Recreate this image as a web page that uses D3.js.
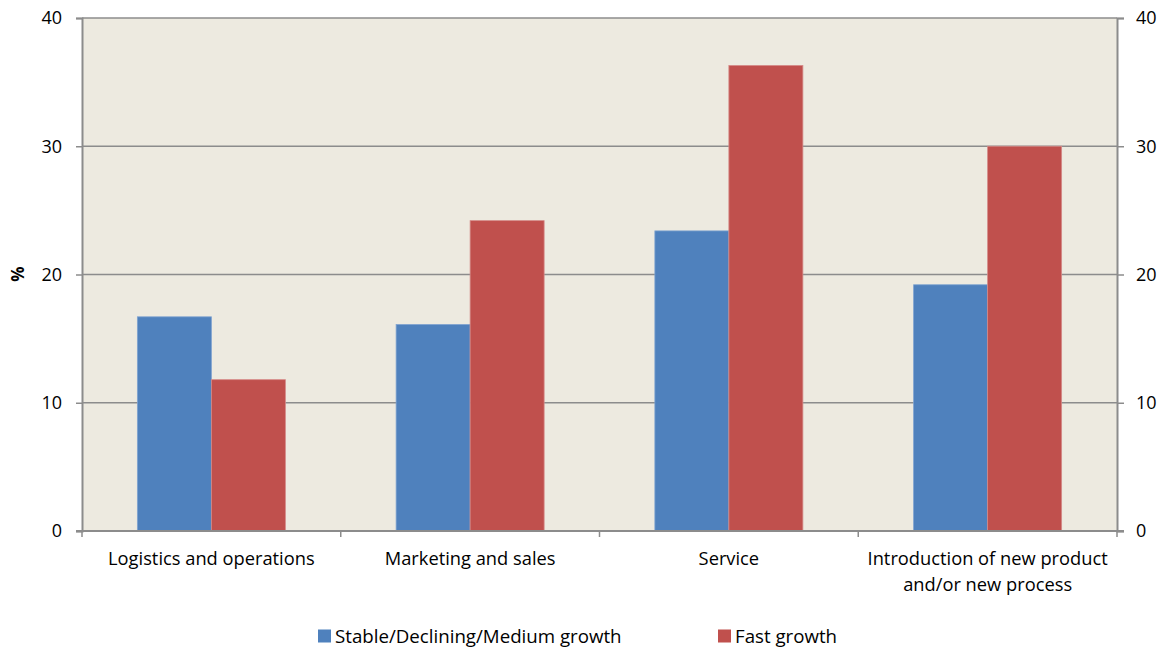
<!DOCTYPE html>
<html>
<head>
<meta charset="utf-8">
<script src="https://cdn.jsdelivr.net/npm/d3@7"></script>
<style>
  html, body { margin: 0; padding: 0; background: #ffffff; }
  svg text { font-family: "Open Sans", "Noto Sans", sans-serif; fill: #000; }
</style>
</head>
<body>
<svg id="chart" width="1171" height="652"></svg>
<script>
// Share of firms (%) by area, split by growth class
const categories = [
  ["Logistics and operations"],
  ["Marketing and sales"],
  ["Service"],
  ["Introduction of new product", "and/or new process"]
];
const seriesNames = ["Stable/Declining/Medium growth", "Fast growth"];
const stableValues = [16.7, 16.1, 23.4, 19.2];
const fastValues = [11.8, 24.2, 36.3, 30.0];
const yTicks = [0, 10, 20, 30, 40];
const colors = ["#4F81BD", "#C0504D"];

const svg = d3.select("#chart");
const W = 1171, H = 652;
const margin = { left: 82, right: W - 1117, top: 18, bottom: H - 531 };
const x0 = margin.left, x1 = W - margin.right;
const yTop = margin.top, yBot = H - margin.bottom;

const catIdx = categories.map((_, i) => i);
const x = d3.scaleBand().domain(catIdx).range([x0, x1]).paddingInner(0).paddingOuter(0);
// Bars occupy ~57% of each category slot
const groupW = x.bandwidth() * 0.572;
const barW = groupW / 2;
const y = d3.scaleLinear().domain([0, 40]).range([yBot, yTop]);

// Plot background
svg.append("rect")
  .attr("x", x0).attr("y", yTop)
  .attr("width", x1 - x0).attr("height", yBot - yTop)
  .attr("fill", "#EDEAE0");

// Horizontal gridlines
svg.append("g").selectAll("line")
  .data(yTicks.filter(t => t > 0))
  .join("line")
  .attr("x1", x0).attr("x2", x1)
  .attr("y1", d => y(d)).attr("y2", d => y(d))
  .attr("stroke", "#8C8C8C").attr("stroke-width", 1.3);

// Bars
const seriesData = [stableValues, fastValues];
seriesData.forEach((vals, s) => {
  svg.append("g").selectAll("rect")
    .data(vals)
    .join("rect")
    .attr("x", (d, i) => x(i) + (x.bandwidth() - groupW) / 2 + s * barW)
    .attr("y", d => y(d))
    .attr("width", barW)
    .attr("height", d => y(0) - y(d))
    .attr("fill", colors[s])
    .attr("stroke", s === 0 ? "#7FA3D0" : "#D58A88")
    .attr("stroke-width", 0.8);
});

// Left axis
const leftAxis = d3.axisLeft(y).tickValues(yTicks).tickSize(6).tickPadding(14).tickFormat(d3.format("d"));
const gL = svg.append("g").attr("transform", `translate(${x0},0)`).call(leftAxis);
// Right axis
const rightAxis = d3.axisRight(y).tickValues(yTicks).tickSize(7).tickPadding(12).tickFormat(d3.format("d"));
const gR = svg.append("g").attr("transform", `translate(${x1},0)`).call(rightAxis);
[gL, gR].forEach(g => {
  g.select(".domain").attr("stroke", "#8C8C8C").attr("stroke-width", 2);
  g.selectAll(".tick line").attr("stroke", "#8C8C8C").attr("stroke-width", 1.5);
  g.selectAll(".tick text").attr("font-size", 18).attr("font-family", "Open Sans").attr("fill", "#000");
});

// Bottom axis: baseline, boundary ticks and category labels
const gB = svg.append("g");
gB.append("line").attr("x1", x0 - 6).attr("x2", x1 + 7).attr("y1", yBot).attr("y2", yBot)
  .attr("stroke", "#8C8C8C").attr("stroke-width", 2);
const bounds = catIdx.map(i => x(i)).concat([x1]);
gB.selectAll("line.b").data(bounds).join("line").attr("class", "b")
  .attr("x1", d => d).attr("x2", d => d).attr("y1", yBot).attr("y2", yBot + 6)
  .attr("stroke", "#8C8C8C").attr("stroke-width", 1.5);
const labels = gB.selectAll("text.cat").data(categories).join("text").attr("class", "cat")
  .attr("text-anchor", "middle")
  .attr("font-size", 18.3);
labels.each(function(lines, i) {
  const t = d3.select(this);
  lines.forEach((ln, k) => {
    t.append("tspan").attr("x", x(i) + x.bandwidth() / 2).attr("y", 565 + k * 26).text(ln);
  });
});

// Y axis title
svg.append("text")
  .attr("transform", "translate(24,274) rotate(-90)")
  .attr("text-anchor", "middle")
  .attr("font-size", 17).attr("font-weight", "bold")
  .text("%");

// Legend
const legendX = [318, 718];
const lg = svg.append("g").selectAll("g").data(seriesNames).join("g")
  .attr("transform", (d, i) => `translate(${legendX[i]},636)`);
lg.append("rect").attr("x", 0).attr("y", -6.5).attr("width", 13).attr("height", 13)
  .attr("fill", (d, i) => colors[i]);
lg.append("text").attr("x", 17).attr("y", 6.5).attr("font-size", 18.7).text(d => d);
</script>
</body>
</html>
